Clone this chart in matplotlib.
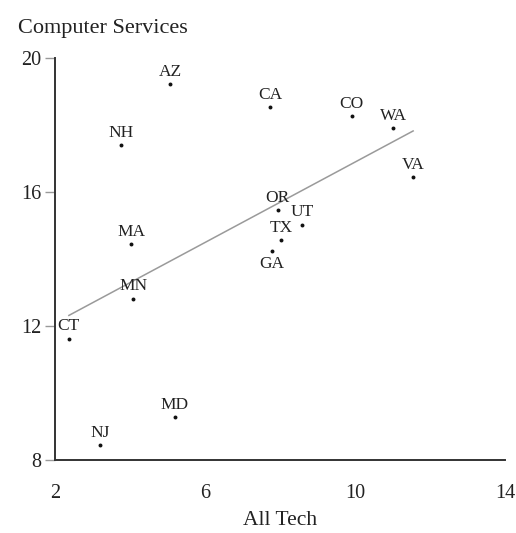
import matplotlib
matplotlib.use("Agg")
import matplotlib.pyplot as plt

states = ["AZ", "NH", "CA", "CO", "WA", "VA", "OR", "UT", "TX", "GA",
          "MA", "MN", "CT", "MD", "NJ"]
all_tech = [5.07, 3.76, 7.73, 9.91, 11.02, 11.54, 7.94, 8.58, 8.04, 7.79,
            4.03, 4.09, 2.37, 5.20, 3.20]
computer_services = [19.21, 17.39, 18.53, 18.25, 17.90, 16.44, 15.45, 15.02,
                     14.55, 14.23, 14.43, 12.81, 11.62, 9.28, 8.45]
label_below = ["GA"]

trend_x = [2.37, 11.55]
trend_y = [12.31, 17.81]

x_ticks = [2, 6, 10, 14]
y_ticks = [8, 12, 16, 20]

plt.rcParams['font.family'] = ['Liberation Serif', 'DejaVu Serif']

fig = plt.figure(figsize=(5.16, 5.33), dpi=100)
ax = fig.add_axes([55/516, 1-460/533, 450/516, (460-57.5)/533])

ax.plot(trend_x, trend_y, color="#9a9a9a", lw=1.1, zorder=1)
ax.scatter(all_tech, computer_services, s=8, color="#111111", zorder=2, linewidths=0)

for s, x, y in zip(states, all_tech, computer_services):
    if s in label_below:
        ax.annotate(s, (x, y), xytext=(0, -3.5), textcoords="offset points",
                    ha="center", va="top", fontsize=12.5, color="#222222")
    else:
        ax.annotate(s, (x, y), xytext=(0, 3), textcoords="offset points",
                    ha="center", va="bottom", fontsize=12.5, color="#222222")

ax.set_xlim(2, 14)
ax.set_ylim(8, 20)
ax.set_xticks(x_ticks)
ax.set_yticks(y_ticks)
ax.tick_params(axis="x", length=0, pad=17, labelsize=14.5, labelcolor="#222222")
ax.tick_params(axis="y", length=7, width=1.0, color="#999999", pad=3,
               labelsize=14.5, labelcolor="#222222")
for sp in ["top", "right"]:
    ax.spines[sp].set_visible(False)
for sp in ["left", "bottom"]:
    ax.spines[sp].set_color("#333333")
    ax.spines[sp].set_linewidth(1.4)

ax.set_xlabel("All Tech", fontsize=15.5, color="#222222", labelpad=6)
fig.text(18/516, 1-33/533, "Computer Services", fontsize=16,
         color="#222222", va="baseline", ha="left")

fig.savefig("out.png", dpi=100)
